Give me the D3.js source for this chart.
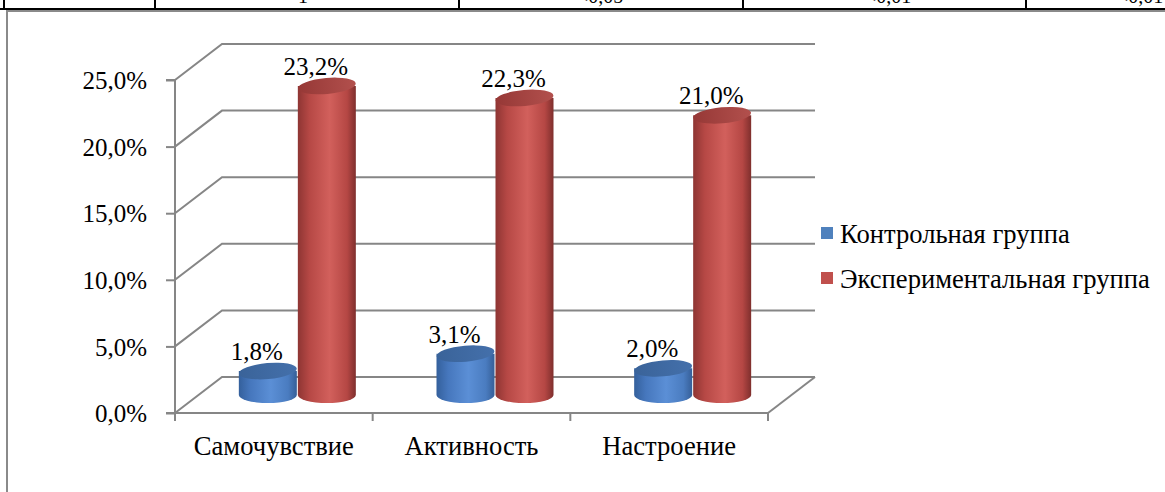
<!DOCTYPE html>
<html><head><meta charset="utf-8">
<script src="https://cdn.jsdelivr.net/npm/d3@7"></script>
<style>
html,body{margin:0;padding:0;background:#fff;}
svg{display:block;}
svg text{font-family:"Liberation Serif","Times New Roman","DejaVu Serif",serif !important;}
</style></head>
<body>
<svg id="c" width="1165" height="492"></svg>
<script>
const categories = ["Самочувствие", "Активность", "Настроение"];
const seriesNames = ["Контрольная группа", "Экспериментальная группа"];
const controlValues = [1.8, 3.1, 2.0];
const experimentalValues = [23.2, 22.3, 21.0];
const yTicks = [0, 5, 10, 15, 20, 25];
const tableFragments = ["1", "<0,05", "<0,01", "<0,01"];

const svg = d3.select("#c");
const FONT = 25;
const FONT_CYR = 26.6;
const depth = {dx: 47, dy: -36};
const y = d3.scaleLinear().domain([0, 25]).range([413, 80]);
const x = d3.scaleBand().domain(categories).range([175, 768]).padding(0);
const grid = "#868686";

// table fragment at top
const tbl = svg.append("g");
tbl.append("line").attr("x1", 0).attr("x2", 1165).attr("y1", 9).attr("y2", 9).attr("stroke", "#000").attr("stroke-width", 2);
[4, 155, 459, 743, 1026].forEach(v => tbl.append("line").attr("x1", v).attr("x2", v).attr("y1", 0).attr("y2", 9).attr("stroke", "#000").attr("stroke-width", 2));
const fragX = [303, 600, 888, 1140];
tableFragments.forEach((t, i) => tbl.append("text").attr("x", fragX[i]).attr("y", 3).attr("text-anchor", "middle").attr("font-size", 20).text(t));

// chart frame
svg.append("path").attr("d", "M7,500 L7,11 L1170,11").attr("fill", "none").attr("stroke", "#8a8a8a").attr("stroke-width", 2);

// gridlines (walls)
const g = svg.append("g");
yTicks.forEach(t => {
  const fy = y(t), bx = 175 + depth.dx, by = fy + depth.dy;
  g.append("path").attr("d", `M175,${fy} L${bx},${by} L${768 + depth.dx},${by}`)
    .attr("fill", "none").attr("stroke", grid).attr("stroke-width", 2);
});
g.append("line").attr("x1", 768).attr("y1", y(0)).attr("x2", 768 + depth.dx).attr("y2", y(0) + depth.dy)
  .attr("stroke", grid).attr("stroke-width", 2);

// y axis
const yAxis = svg.append("g").attr("transform", "translate(175,0)")
  .call(d3.axisLeft(y).tickValues(yTicks).tickSize(9).tickPadding(19)
    .tickFormat(d => d3.format(".1f")(d).replace(".", ",") + "%"));
yAxis.attr("font-family", null).attr("font-size", null);
yAxis.select(".domain").attr("stroke", grid).attr("stroke-width", 2).attr("d", `M-9,${y(25)}H0V${y(0)}H-9`);
yAxis.selectAll(".tick line").attr("stroke", grid).attr("stroke-width", 2);
yAxis.selectAll("text").attr("font-size", FONT).attr("fill", "#000").attr("dy", "0.35em");

// x axis
const xAxis = svg.append("g").attr("transform", `translate(0,${y(0)})`)
  .call(d3.axisBottom(x).tickSize(0).tickPadding(34));
xAxis.attr("font-family", null).attr("font-size", null);
xAxis.select(".domain").attr("stroke", grid).attr("stroke-width", 2).attr("d", `M175,0H768`);
xAxis.selectAll("text").attr("font-size", FONT_CYR).attr("fill", "#000").attr("dy", "0.31em");
const bounds = categories.map(c => x(c)).concat([x(categories[categories.length - 1]) + x.bandwidth()]);
bounds.forEach(b => xAxis.append("line").attr("x1", b).attr("x2", b).attr("y1", 0).attr("y2", 8).attr("stroke", grid).attr("stroke-width", 2));

// gradients
const defs = svg.append("defs");
function grad(id, stops) {
  const lg = defs.append("linearGradient").attr("id", id).attr("x1", "0%").attr("x2", "100%").attr("y1", "0%").attr("y2", "0%");
  stops.forEach(s => lg.append("stop").attr("offset", s[0]).attr("stop-color", s[1]));
}
grad("blueBody", [["0%", "#34609c"], ["20%", "#4677bd"], ["55%", "#5b8fd6"], ["85%", "#4a7cc0"], ["100%", "#365f98"]]);
grad("blueTop", [["0%", "#3a6399"], ["100%", "#4470ab"]]);
grad("redBody", [["0%", "#8e3533"], ["20%", "#b64845"], ["55%", "#d2605c"], ["85%", "#b54744"], ["100%", "#7f2f2d"]]);
grad("redTop", [["0%", "#963836"], ["100%", "#b2504d"]]);

const r = 29, ry = 8;
const series = [
  {vals: controlValues, off: -29.5, body: "url(#blueBody)", top: "url(#blueTop)"},
  {vals: experimentalValues, off: 29.5, body: "url(#redBody)", top: "url(#redTop)"}
];
const cyl = svg.append("g");
const labels = svg.append("g");
categories.forEach((c, i) => {
  series.forEach(s => {
    const cx = x(c) + x.bandwidth() / 2 + depth.dx / 2 + s.off;
    const baseY = y(0) + depth.dy / 2;
    const topY = y(s.vals[i]) + depth.dy / 2;
    cyl.append("path")
      .attr("d", `M${cx - r},${topY} L${cx - r},${baseY} A${r},${ry} 0 0 0 ${cx + r},${baseY} L${cx + r},${topY} Z`)
      .attr("fill", s.body);
    cyl.append("ellipse").attr("cx", cx).attr("cy", topY).attr("rx", r).attr("ry", ry)
      .attr("transform", `rotate(-5,${cx},${topY})`).attr("fill", s.top);
    labels.append("text").attr("x", cx - 11).attr("y", topY - 11).attr("text-anchor", "middle")
      .attr("font-size", FONT).attr("fill", "#000")
      .text(d3.format(".1f")(s.vals[i]).replace(".", ",") + "%");
  });
});

// legend
const legColors = ["#4f81bd", "#c0504d"];
const leg = svg.append("g");
seriesNames.forEach((n, i) => {
  const by = 243 + i * 45;
  leg.append("rect").attr("x", 821).attr("y", by - 16).attr("width", 12).attr("height", 12).attr("fill", legColors[i]);
  leg.append("text").attr("x", 840).attr("y", by).attr("font-size", FONT_CYR).attr("fill", "#000").text(n);
});
</script>
</body></html>
